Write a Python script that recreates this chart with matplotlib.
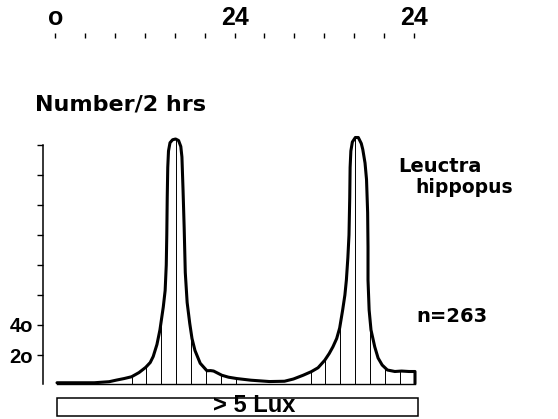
import numpy as np
import matplotlib.pyplot as plt
from matplotlib.patches import Rectangle

# Curve outline (hours, number / 2 hrs)
curve_hours = [0, 5, 7, 8, 9, 10, 11, 11.9, 12.5, 12.9, 13.4, 13.8, 14.25, 14.5, 14.65,
               14.72, 14.78, 14.85, 14.95, 15.15, 15.5, 15.9, 16.3, 16.6, 16.75, 16.9,
               17.05, 17.2, 17.45, 17.8, 18.1, 18.5, 19.2, 20.1, 20.6, 21.0, 22.1, 23.0,
               24.1, 26.0, 28.5, 30.5, 31.7, 33.0, 34.1, 35.0, 35.9, 36.5, 37.0, 37.5,
               37.9, 38.3, 38.6, 38.8, 39.0, 39.15, 39.25, 39.3, 39.4, 39.6, 40.0, 40.4,
               40.8, 41.0, 41.3, 41.5, 41.65, 41.7, 41.7, 41.85, 42.1, 42.6, 43.05, 43.6,
               44.3, 45.3, 46.2, 47.2, 48.0, 48.0]
curve_counts = [1.5, 1.5, 2.2, 3.3, 4.3, 5.5, 8.3, 11.8, 15, 19, 27, 36.7, 52, 63, 80,
                100, 125, 145, 156, 161.5, 163.5, 164, 163, 159, 152, 130,
                105, 75, 55, 41, 31, 23, 14.5, 9.5, 9.6, 9.3, 6.5, 5.2,
                4.3, 3.2, 2.3, 2.5, 4.0, 6.5, 8.9, 11.5, 16.5, 21, 25.5, 31,
                38, 50, 60, 70, 85, 100, 125, 145, 156, 162, 165, 165,
                161, 157, 148, 137, 115, 92, 70, 50, 36.7, 25.5, 18, 13.3,
                10, 9, 9.3, 9, 9, 1]

# Hatch lines every 2 hours under the peaks
hatch_hours = [10, 12, 14, 16, 18, 20, 22, 24, 34, 36, 38, 40, 42, 44, 46, 48]
hatch_counts = [5.5, 12, 42, 164, 32, 9.8, 6.8, 4.3, 8.8, 17, 40, 165, 38, 11, 9.3, 9]

# Axis scales
y_ticks = [20, 40, 60, 80, 100, 120, 140, 160]
y_labels = ['2o', '4o', '', '', '', '', '', '']
top_ticks = [0, 4, 8, 12, 16, 20, 24, 28, 32, 36, 40, 44, 48]
top_labels = ['o', '', '', '', '', '', '24', '', '', '', '', '', '24']

# Light bar below the plot
lux_start = 0.0
lux_end = 48.4

W, H = 558, 419
fig = plt.figure(figsize=(W / 100, H / 100), dpi=100)

# Main plot: left spine at 42.7 px, t=0 at 57 px, t=48 at 415 px
ax = fig.add_axes([42.7 / W, (H - 385) / H, (415 - 42.7) / W, 240 / H])
ax.set_xlim(-1.917, 48)
ax.set_ylim(0, 160)
for s in ['top', 'right', 'bottom']:
    ax.spines[s].set_visible(False)
ax.spines['left'].set_bounds(1, 160)
ax.spines['left'].set_linewidth(1.1)
ax.set_xticks([])
ax.set_yticks(y_ticks)
ax.set_yticklabels(y_labels, fontfamily='Liberation Sans', fontweight='bold', fontsize=14.5)
ax.tick_params(axis='y', direction='out', length=4, width=1, pad=3)
ax.patch.set_visible(False)

# Baseline, hatch lines and the curve
ax.plot([0, 48], [1, 1], color='black', lw=1.0, clip_on=False)
ax.vlines(hatch_hours, 1, hatch_counts, color='black', lw=0.7, clip_on=False)
ax.plot(curve_hours, curve_counts, color='black', lw=2.2, solid_joinstyle='round',
        solid_capstyle='round', clip_on=False)

# "> 5 Lux" bar
ax.add_patch(Rectangle((lux_start, -20.5), lux_end - lux_start, 11.8, fill=False,
                       lw=1.1, edgecolor='black', clip_on=False))
ax.text(26.4, -18.2, '> 5 Lux', ha='center', va='baseline', fontsize=17,
        fontfamily='Liberation Sans', fontweight='bold', clip_on=False)

# Time scale on top (hours)
ax_top = fig.add_axes([55.4 / W, (H - 36.5) / H, 358.4 / W, 3.5 / H])
ax_top.set_xlim(0, 48)
ax_top.set_ylim(0, 1)
for s in ax_top.spines.values():
    s.set_visible(False)
ax_top.set_yticks([])
ax_top.xaxis.tick_top()
ax_top.set_xticks(top_ticks)
ax_top.set_xticklabels(top_labels, fontfamily='Liberation Sans', fontweight='bold', fontsize=18)
ax_top.tick_params(axis='x', direction='in', length=3.5, width=1, pad=2)
ax_top.patch.set_visible(False)

# Labels
fig.text(35 / W, (H - 111) / H, 'Number/2 hrs', fontsize=16, fontfamily='DejaVu Sans',
         fontweight='bold', va='baseline')
fig.text(398 / W, (H - 172) / H, 'Leuctra', fontsize=14, fontfamily='DejaVu Sans',
         fontweight='bold', va='baseline')
fig.text(415 / W, (H - 193) / H, 'hippopus', fontsize=13.5, fontfamily='DejaVu Sans',
         fontweight='bold', va='baseline')
fig.text(416 / W, (H - 322) / H, 'n=263', fontsize=14, fontfamily='DejaVu Sans',
         fontweight='bold', va='baseline')

fig.savefig('out.png', dpi=100)
